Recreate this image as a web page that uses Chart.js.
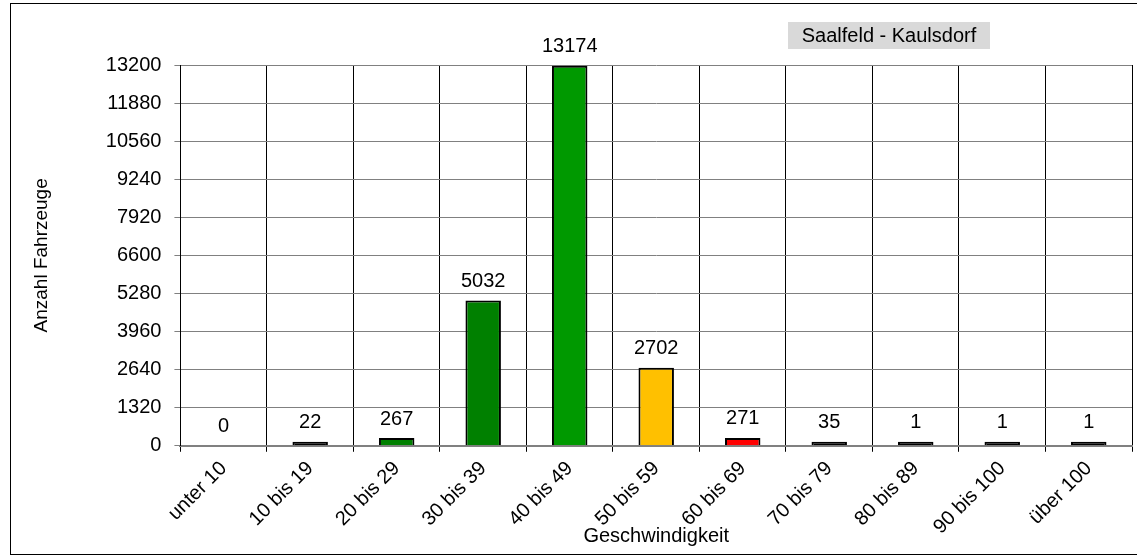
<!DOCTYPE html>
<html>
<head>
<meta charset="utf-8">
<script src="https://cdn.jsdelivr.net/npm/chart.js@4.4.0/dist/chart.umd.min.js"></script>
<style>
  html, body { margin: 0; padding: 0; background: #fff; }
  #wrap { width: 1137px; height: 560px; position: relative; }
</style>
</head>
<body>
<div id="wrap"><canvas id="chart" width="1137" height="560"></canvas></div>
<script>
// Geschwindigkeitsklassen
const categories = ["unter 10", "10 bis 19", "20 bis 29", "30 bis 39", "40 bis 49",
  "50 bis 59", "60 bis 69", "70 bis 79", "80 bis 89", "90 bis 100", "über 100"];
const counts = [0, 22, 267, 5032, 13174, 2702, 271, 35, 1, 1, 1];
const barColors = ["rgba(0,0,0,0)", "#000000", "#008000", "#008000", "#009900",
  "#FFC000", "#FF0000", "#000000", "#000000", "#000000", "#000000"];
const yTicks = [0, 1320, 2640, 3960, 5280, 6600, 7920, 9240, 10560, 11880, 13200];
const stationName = "Saalfeld - Kaulsdorf";

const FONT = "Liberation Sans, Arial, sans-serif";

// Zahlen über den Balken, Rahmen und Stationsname
const extras = {
  id: "extras",
  afterDatasetsDraw(chart) {
    const ctx = chart.ctx;
    const meta = chart.getDatasetMeta(0);
    const base = chart.scales.y.getPixelForValue(0);
    ctx.save();
    ctx.fillStyle = "#000";
    ctx.font = "20px " + FONT;
    ctx.textAlign = "center";
    ctx.textBaseline = "bottom";
    meta.data.forEach((bar, i) => {
      const top = counts[i] === 0 ? base : bar.y;
      ctx.fillText(String(counts[i]), bar.x, top - 9);
    });
    ctx.restore();
  },
  afterDraw(chart) {
    const ctx = chart.ctx;
    ctx.save();
    // Außenrahmen
    ctx.strokeStyle = "#000";
    ctx.lineWidth = 1;
    ctx.strokeRect(10.5, 3.5, 1140, 551);
    // Stationsname
    ctx.fillStyle = "#d9d9d9";
    ctx.fillRect(788, 22, 202, 27);
    ctx.fillStyle = "#000";
    ctx.font = "20px " + FONT;
    ctx.textAlign = "center";
    ctx.textBaseline = "middle";
    ctx.fillText(stationName, 889, 36);
    ctx.restore();
  }
};

const ctx = document.getElementById("chart").getContext("2d");
new Chart(ctx, {
  type: "bar",
  data: {
    labels: categories,
    datasets: [{
      data: counts,
      backgroundColor: barColors,
      borderColor: barColors.map(c => c === "rgba(0,0,0,0)" ? c : "#000"),
      borderWidth: 2,
      minBarLength: 4,
      barPercentage: 0.41,
      categoryPercentage: 1.0
    }]
  },
  options: {
    responsive: false,
    animation: false,
    layout: { padding: { left: 26, right: 5, top: 65, bottom: 8 } },
    plugins: {
      legend: { display: false },
      tooltip: { enabled: false }
    },
    scales: {
      x: {
        grid: { color: "#000", lineWidth: 1, offset: true, drawTicks: true, tickLength: 6 },
        border: { color: "#808080", width: 2 },
        ticks: { color: "#000", font: { size: 20, family: FONT }, maxRotation: 45, minRotation: 45, padding: 5 },
        title: { display: true, text: "Geschwindigkeit", color: "#000", font: { size: 20, family: FONT }, padding: { top: -20 } }
      },
      y: {
        min: 0,
        max: 13200,
        afterBuildTicks(axis) { axis.ticks = yTicks.map(v => ({ value: v })); },
        grid: { color: "#808080", lineWidth: 1, tickLength: 6 },
        border: { color: "#000", width: 1 },
        ticks: { color: "#000", font: { size: 20, family: FONT }, padding: 13, callback: v => String(v) },
        title: { display: true, text: "Anzahl Fahrzeuge", color: "#000", font: { size: 19, family: FONT }, padding: { bottom: 40 } }
      }
    }
  },
  plugins: [extras]
});
</script>
</body>
</html>
